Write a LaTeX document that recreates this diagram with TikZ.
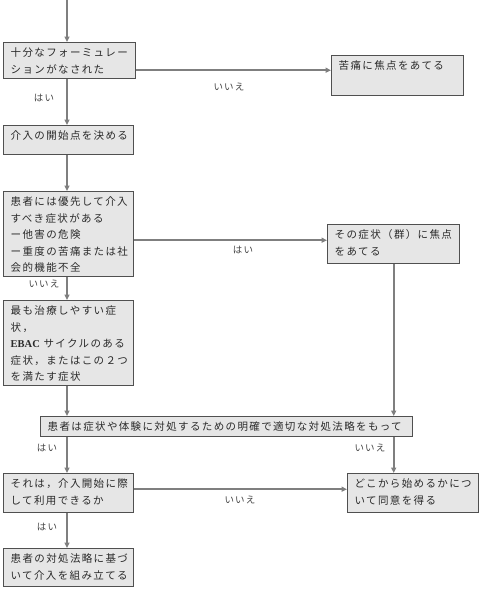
\documentclass[tikz,border=0pt]{standalone}
\usepackage{fontspec}
\setmainfont{Noto Sans CJK JP}[LetterSpace=13]
\newfontfamily\lat{Liberation Serif}
\usetikzlibrary{arrows.meta}
\definecolor{boxfill}{HTML}{E6E6E6}
\definecolor{boxline}{HTML}{505050}
\definecolor{arr}{HTML}{7F7F7F}
\definecolor{txt}{HTML}{2A2A2A}
\definecolor{lbl}{HTML}{444444}
\newcommand{\bxtext}[3]{\parbox[c][\dimexpr#2-11pt\relax][t]{\dimexpr#1-14pt\relax}{\setlength{\baselineskip}{16.5pt}#3}}
\begin{document}
\begin{tikzpicture}[x=1pt,y=-1pt,
 box/.style={draw=boxline, line width=1.4pt, fill=boxfill, anchor=north west, inner xsep=7pt, inner ysep=5pt, text=txt, font=\fontsize{10.5}{16.5}\selectfont},
 conn/.style={draw=arr, line width=1.6pt, -{Triangle[length=5.5pt,width=5pt]}},
 lab/.style={text=lbl, font=\fontsize{9.5}{10}\selectfont, inner sep=0pt}]
\useasboundingbox (0,0) rectangle (480,590);
\node[box] (b1) at (3,42) {\bxtext{132pt}{37pt}{十分なフォーミュレー\\ションがなされた}};
\node[box] (b2) at (331,55) {\bxtext{132pt}{41pt}{苦痛に焦点をあてる}};
\node[box] (b3) at (3,125) {\bxtext{130pt}{30pt}{介入の開始点を決める}};
\node[box] (b4) at (3,191) {\bxtext{130pt}{86pt}{患者には優先して介入\\すべき症状がある\\ー他害の危険\\ー重度の苦痛または社\\会的機能不全}};
\node[box] (b5) at (327,224) {\bxtext{132pt}{40pt}{その症状（群）に焦点\\をあてる}};
\node[box] (b6) at (3,300) {\bxtext{130pt}{86pt}{最も治療しやすい症\\状，\\{\lat\bfseries EBAC} サイクルのある\\症状，またはこの２つ\\を満たす症状}};
\node[box] (b7) at (40,416) {\bxtext{372pt}{21pt}{患者は症状や体験に対処するための明確で適切な対処法略をもって}};
\node[box] (b8) at (3,473) {\bxtext{130pt}{40pt}{それは，介入開始に際\\して利用できるか}};
\node[box] (b9) at (347,473) {\bxtext{131pt}{40pt}{どこから始めるかにつ\\いて同意を得る}};
\node[box] (b10) at (3,548) {\bxtext{130pt}{39pt}{患者の対処法略に基づ\\いて介入を組み立てる}};
\node[lab] (l1) at (229,87) {いいえ};
\node[lab] (l2) at (44,98) {はい};
\node[lab] (l3) at (243,250) {はい};
\node[lab] (l4) at (44,284) {いいえ};
\node[lab] (l5) at (47,448) {はい};
\node[lab] (l6) at (370,448) {いいえ};
\node[lab] (l7) at (240,500) {いいえ};
\node[lab] (l8) at (47,527) {はい};
\coordinate (top) at (67,0);
\draw[conn] (top) -- (top |- b1.north);
\draw[conn] ([yshift=-9.5pt]b1.east) -- ([yshift=-9.5pt]b1.east -| b2.west);
\draw[conn] (b1.south -| top) -- (b3.north -| top);
\draw[conn] (b3.south -| top) -- (b4.north -| top);
\draw[conn] ([yshift=-6pt]b4.east) -- ([yshift=-6pt]b4.east -| b5.west);
\draw[conn] (b4.south -| top) -- (b6.north -| top);
\draw[conn] (b5.south) -- (b7.north -| b5.south);
\draw[conn] (b6.south -| top) -- (b7.north -| top);
\draw[conn] (b7.south -| top) -- (b8.north -| top);
\draw[conn] (b7.south -| b5.south) -- (b9.north -| b5.south);
\draw[conn] ([yshift=4pt]b8.east) -- ([yshift=4pt]b8.east -| b9.west);
\draw[conn] (b8.south -| top) -- (b10.north -| top);
\end{tikzpicture}
\end{document}
